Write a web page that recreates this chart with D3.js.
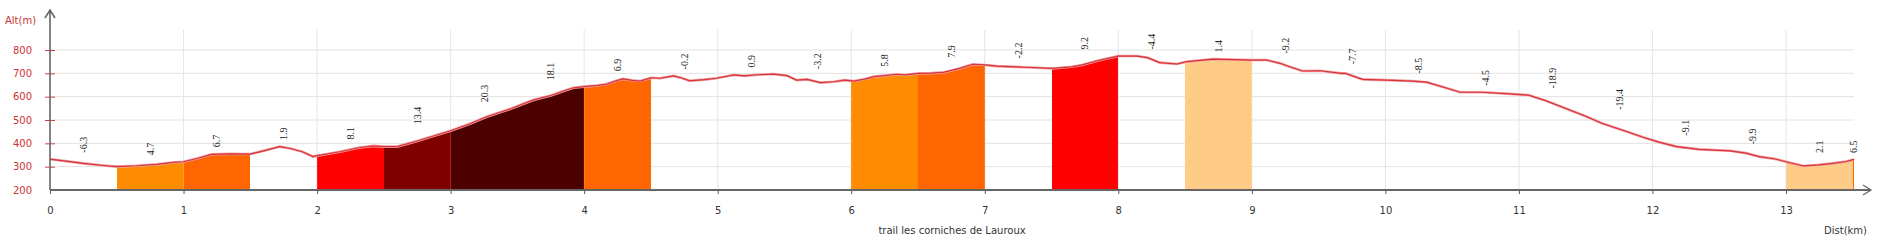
<!DOCTYPE html>
<html>
<head>
<meta charset="utf-8">
<script src="https://cdn.jsdelivr.net/npm/d3@7"></script>
<style>
  body { margin: 0; background: #fff; }
  svg { display: block; }
</style>
</head>
<body>
<svg id="chart" width="1877" height="240"></svg>
<script>
// elevation profile
const profileKm = [0, 0.1, 0.25, 0.4, 0.5, 0.65, 0.8, 0.92, 1, 1.1, 1.21, 1.35, 1.5, 1.6, 1.72, 1.8, 1.89, 1.97, 2,
  2.17, 2.31, 2.42, 2.5, 2.6, 2.75, 3, 3.15, 3.27, 3.45, 3.62, 3.75, 3.83, 3.92, 4, 4.1, 4.17, 4.24, 4.29, 4.36,
  4.42, 4.5, 4.57, 4.67, 4.73, 4.79, 4.9, 4.99, 5.12, 5.2, 5.3, 5.42, 5.52, 5.59, 5.67, 5.77, 5.87, 5.95, 6.02,
  6.1, 6.17, 6.25, 6.34, 6.4, 6.51, 6.6, 6.69, 6.81, 6.91, 7, 7.09, 7.3, 7.51, 7.65, 7.73, 7.85, 8, 8.14, 8.22,
  8.31, 8.44, 8.51, 8.71, 8.85, 9, 9.11, 9.21, 9.3, 9.38, 9.51, 9.67, 9.7, 9.83, 10.01, 10.2, 10.31, 10.45, 10.56,
  10.73, 10.96, 11.07, 11.2, 11.38, 11.5, 11.62, 11.8, 11.93, 12.05, 12.18, 12.35, 12.58, 12.7, 12.8, 12.92, 13,
  13.13, 13.25, 13.35, 13.45, 13.51];
const profileAlt = [332, 325, 314, 305, 300, 304, 310, 318, 321, 335, 353, 355, 354, 368, 386, 378, 364, 343, 347,
  364, 381, 389, 386, 386, 410, 454, 485, 514, 548, 586, 605, 621, 638, 643, 648, 654, 668, 676, 670,
  667, 681, 679, 689, 680, 668, 673, 679, 693, 689, 694, 697, 690, 671, 674, 660, 664, 671, 667,
  675, 686, 690, 696, 693, 700, 701, 704, 721, 739, 736, 731, 726, 721, 728, 736, 755, 774, 774, 767,
  746, 740, 750, 761, 759, 757, 757, 743, 725, 710, 711, 700, 700, 674, 671, 667, 662, 638, 619,
  619, 611, 607, 583, 543, 516, 486, 452, 426, 405, 386, 374, 368, 358, 343, 333, 321,
  303, 308, 314, 322, 331];

// half-kilometre sections: slope label and fill colour
const sectionStart = [0, 0.5, 1, 1.5, 2, 2.5, 3, 3.5, 4, 4.5, 5, 5.5, 6, 6.5, 7, 7.5, 8, 8.5, 9, 9.5, 10, 10.5, 11, 11.5, 12, 12.5, 13, 13.5];
const sectionEnd = [0.5, 1, 1.5, 2, 2.5, 3, 3.5, 4, 4.5, 5, 5.5, 6, 6.5, 7, 7.5, 8, 8.5, 9, 9.5, 10, 10.5, 11, 11.5, 12, 12.5, 13, 13.5, 13.51];
const sectionSlope = ["-6.3", "4.7", "6.7", "1.9", "8.1", "13.4", "20.3", "18.1", "6.9", "-0.2", "0.9", "-3.2", "5.8", "7.9",
  "-2.2", "9.2", "-4.4", "1.4", "-9.2", "-7.7", "-8.5", "-4.5", "-18.9", "-19.4", "-9.1", "-9.9", "2.1", "6.5"];
const sectionColor = [null, "#ff8c00", "#ff6600", null, "#ff0000", "#800000", "#4d0000", "#4d0000", "#ff6600", null, null, null,
  "#ff8c00", "#ff6600", null, "#ff0000", null, "#ffcc88", null, null, null, null, null, null, null, null, "#ffcc88", "#ff6600"];

const xTicks = [0, 1, 2, 3, 4, 5, 6, 7, 8, 9, 10, 11, 12, 13];
const yTicks = [200, 300, 400, 500, 600, 700, 800];
const title = "trail les corniches de Lauroux";

const profile = profileKm.map((k, i) => ({ km: k, alt: profileAlt[i] }));
const svg = d3.select("#chart");

const x = d3.scaleLinear().domain([0, 13]).range([50, 1786]);
const y = d3.scaleLinear().domain([200, 800]).range([190, 50]);
const xEnd = x(13.51);

// grid
svg.append("g")
  .selectAll("line")
  .data(yTicks.filter(d => d > 200))
  .join("line")
  .attr("x1", x(0)).attr("x2", xEnd)
  .attr("y1", d => y(d)).attr("y2", d => y(d))
  .attr("stroke", "#e2e2e2");

svg.append("g")
  .selectAll("line")
  .data(xTicks.filter(d => d > 0))
  .join("line")
  .attr("x1", d => x(d)).attr("x2", d => x(d))
  .attr("y1", 30).attr("y2", y(200))
  .attr("stroke", "#e2e2e2");

// coloured sections (edges snapped to whole pixels so neighbours meet without a seam)
const area = d3.area()
  .x(d => x(d.km))
  .y0(y(200))
  .y1(d => y(d.alt));

const defs = svg.append("defs");
sectionStart.forEach((a, i) => {
  if (!sectionColor[i]) return;
  const left = Math.round(x(a)), right = Math.round(x(sectionEnd[i]));
  defs.append("clipPath").attr("id", "clip" + i)
    .append("rect")
    .attr("x", left).attr("y", 0)
    .attr("width", Math.max(right - left, 2)).attr("height", y(200));
  svg.append("path")
    .datum(profile)
    .attr("d", area)
    .attr("fill", sectionColor[i])
    .attr("clip-path", `url(#clip${i})`)
    .attr("shape-rendering", "crispEdges");
});

// faint km lines showing through the fills
svg.append("g")
  .selectAll("line")
  .data(xTicks.filter(d => d > 0))
  .join("line")
  .attr("x1", d => x(d)).attr("x2", d => x(d))
  .attr("y1", 30).attr("y2", y(200))
  .attr("stroke", "#fff").attr("stroke-opacity", 0.18);

// profile line
const line = d3.line().x(d => x(d.km)).y(d => y(d.alt));
svg.append("path").datum(profile).attr("d", line)
  .attr("fill", "none").attr("stroke", "#f0a0a0").attr("stroke-width", 2.6);
svg.append("path").datum(profile).attr("d", line)
  .attr("fill", "none").attr("stroke", "#d8323a").attr("stroke-width", 1.2);

// slope labels
svg.append("g")
  .selectAll("text")
  .data(sectionSlope)
  .join("text")
  .attr("transform", (d, i) => {
    const a = sectionStart[i], b = sectionEnd[i];
    const top = d3.max(profile.filter(p => p.km >= a - 0.02 && p.km <= b + 0.02), p => p.alt);
    return `translate(${x((a + b) / 2)},${y(top) - 6.5}) rotate(-90)`;
  })
  .attr("dy", "0.35em")
  .attr("font-family", "Liberation Serif, serif")
  .attr("font-size", 10)
  .attr("fill", "#222")
  .text(d => d);

// axes
const yAxis = d3.axisLeft(y).tickValues(yTicks).tickSize(5).tickPadding(13);
const gy = svg.append("g").attr("transform", `translate(${x(0)},0)`).call(yAxis);
gy.select(".domain").remove();
gy.selectAll(".tick line").attr("x1", -5).attr("x2", 5).attr("stroke", "#d04040")
  .filter(d => d === 200).remove();
gy.selectAll(".tick text").attr("fill", "#cc3333")
  .attr("font-family", "DejaVu Sans, Verdana, sans-serif").attr("font-size", 10);

const xAxis = d3.axisBottom(x).tickValues(xTicks).tickSize(4).tickPadding(12.5).tickFormat(d3.format("d"));
const gx = svg.append("g").attr("transform", `translate(0,${y(200)})`).call(xAxis);
gx.select(".domain").remove();
gx.selectAll(".tick line").attr("stroke", "#555");
gx.selectAll(".tick text").attr("fill", "#333")
  .attr("font-family", "DejaVu Sans, Verdana, sans-serif").attr("font-size", 10);

// axis lines with arrow heads
const axisStyle = g => g.attr("fill", "none").attr("stroke", "#666").attr("stroke-width", 2);
svg.append("path").call(axisStyle)
  .attr("d", `M${x(0)},${y(200)}V10M${x(0) - 5},18L${x(0)},10L${x(0) + 5},18`)
  .attr("stroke-width", 1.6);
svg.append("path").call(axisStyle)
  .attr("d", `M${x(0)},${y(200)}H1871`);
svg.append("path").call(axisStyle)
  .attr("d", `M1863,${y(200) - 5}L1871,${y(200)}L1863,${y(200) + 5}`).attr("stroke-width", 1.3);

// titles
const labelFont = "DejaVu Sans, Verdana, sans-serif";
svg.append("text").attr("x", 5).attr("y", 23.5).attr("fill", "#cc3333")
  .attr("font-family", labelFont).attr("font-size", 10).text("Alt(m)");
svg.append("text").attr("x", (x(0) + xEnd) / 2).attr("y", 233.5).attr("text-anchor", "middle")
  .attr("fill", "#333").attr("font-family", labelFont).attr("font-size", 10).text(title);
svg.append("text").attr("x", 1867).attr("y", 233.5).attr("text-anchor", "end")
  .attr("fill", "#333").attr("font-family", labelFont).attr("font-size", 10).text("Dist(km)");
</script>
</body>
</html>
